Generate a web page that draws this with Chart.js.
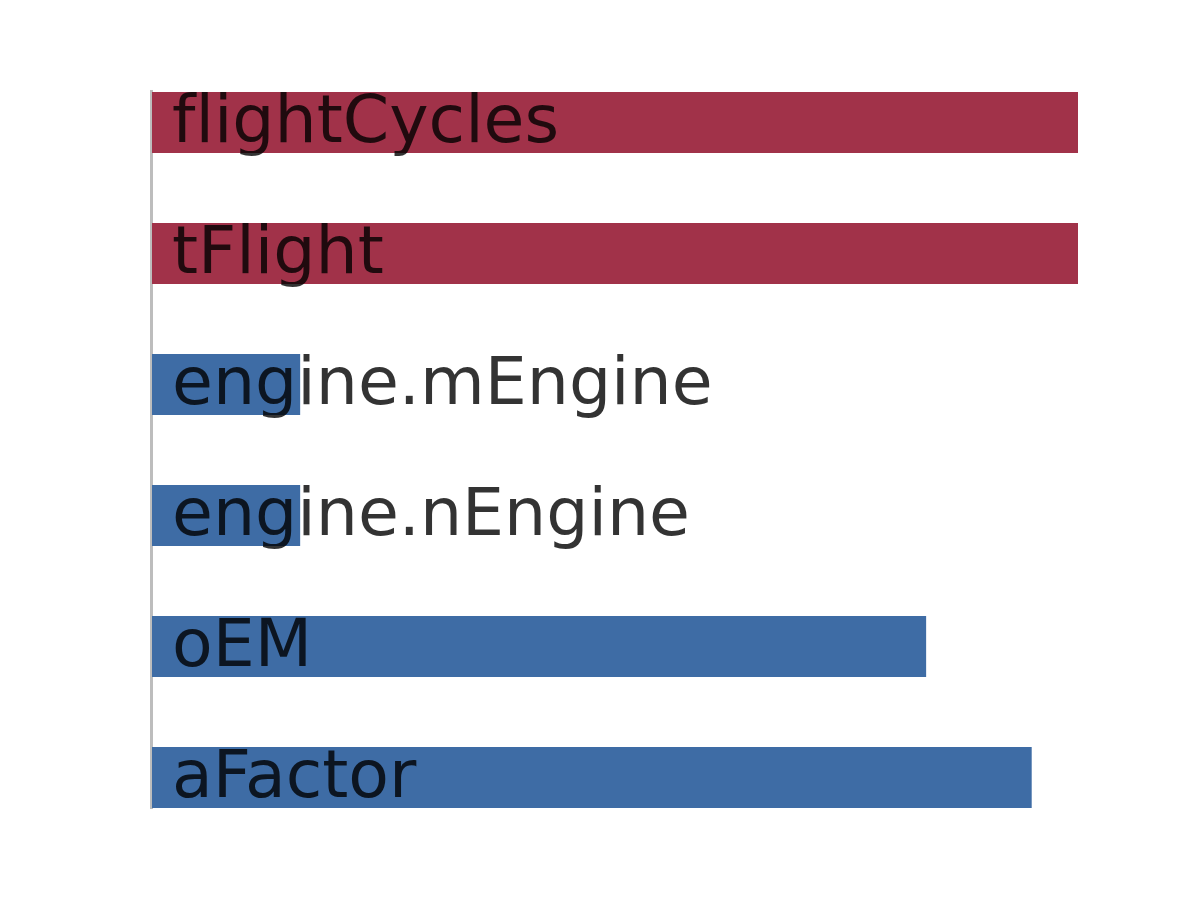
<!DOCTYPE html>
<html>
<head>
<meta charset="utf-8">
<script src="https://cdn.jsdelivr.net/npm/chart.js@4/dist/chart.umd.min.js"></script>
<style>
html,body{margin:0;padding:0;background:#fff;}
#wrap{width:1200px;height:900px;}
</style>
</head>
<body>
<div id="wrap"><canvas id="c" width="1200" height="900"></canvas></div>
<script>
const categories = ["flightCycles", "tFlight", "engine.mEngine", "engine.nEngine", "oEM", "aFactor"];
const sensitivities = [1.0, 1.0, -0.16, -0.16, -0.836, -0.95];
const positiveColor = "#A13249";
const negativeColor = "#3E6CA5";

const barValues = sensitivities.map(v => Math.abs(v));
const barColors = sensitivities.map(v => v >= 0 ? positiveColor : negativeColor);

const axisLinePlugin = {
  id: 'axisLine',
  beforeDatasetsDraw(chart) {
    const meta = chart.getDatasetMeta(0);
    const first = meta.data[0], last = meta.data[meta.data.length - 1];
    const top = first.y - first.height / 2 - 2;
    const bottom = last.y + last.height / 2 + 1;
    const ctx = chart.ctx;
    ctx.save();
    ctx.fillStyle = '#bdbdbd';
    ctx.fillRect(chart.chartArea.left - 2, top, 3, bottom - top);
    ctx.restore();
  }
};

const labelPlugin = {
  id: 'inBarLabels',
  afterDatasetsDraw(chart) {
    const meta = chart.getDatasetMeta(0);
    const ctx = chart.ctx;
    ctx.save();
    ctx.font = '66.5px "DejaVu Sans"';
    ctx.fillStyle = 'rgba(0,0,0,0.8)';
    ctx.textAlign = 'left';
    ctx.textBaseline = 'alphabetic';
    meta.data.forEach((bar, i) => {
      // zero-width non-joiner avoids the "fl" ligature, as in the reference
      const txt = chart.data.labels[i].replace(/f(?=[il])/g, 'f\u200C');
      ctx.fillText(txt, chart.chartArea.left + 20, bar.y + 19);
    });
    ctx.restore();
  }
};

new Chart(document.getElementById('c'), {
  type: 'bar',
  data: {
    labels: categories,
    datasets: [{
      data: barValues,
      backgroundColor: barColors,
      borderWidth: 0,
      categoryPercentage: 1.0,
      barPercentage: 0.466
    }]
  },
  options: {
    indexAxis: 'y',
    responsive: false,
    animation: false,
    layout: { padding: { left: 152, right: 122, top: 57, bottom: 57 } },
    plugins: { legend: { display: false }, tooltip: { enabled: false } },
    scales: {
      x: { display: false, min: 0, max: 1.0 },
      y: { display: false }
    }
  },
  plugins: [axisLinePlugin, labelPlugin]
});
</script>
</body>
</html>
